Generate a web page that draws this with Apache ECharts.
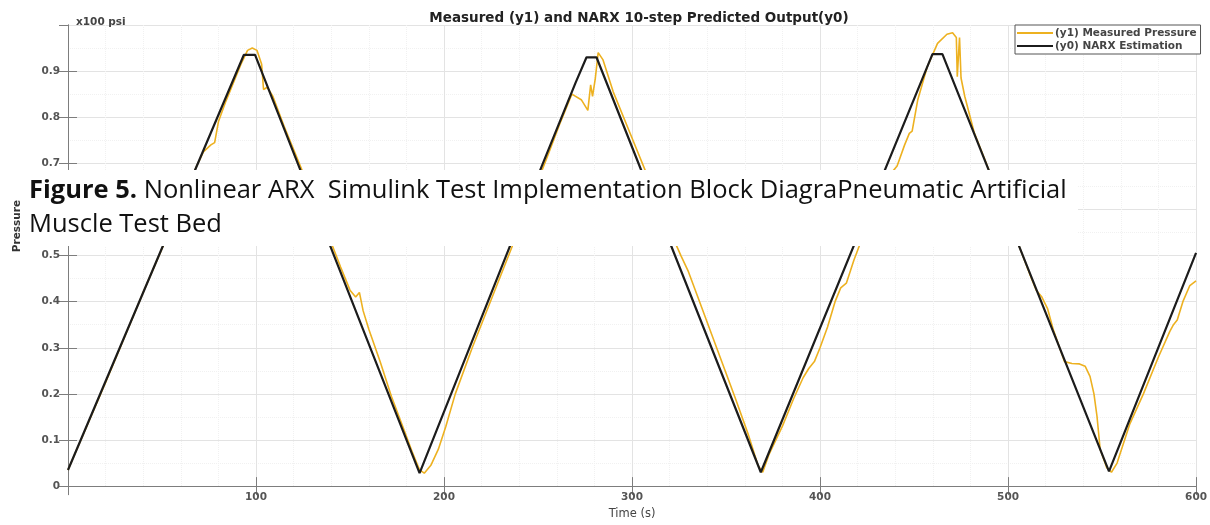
<!DOCTYPE html>
<html>
<head>
<meta charset="utf-8">
<script src="https://cdn.jsdelivr.net/npm/echarts@6/dist/echarts.min.js"></script>
<style>
  html, body { margin: 0; padding: 0; background: #fff; }
  #chart { width: 1210px; height: 525px; }
</style>
</head>
<body>
<div id="chart"></div>
<script>
// NARX 10-step prediction (y0), x100 psi
const narxTime = [0, 93.5, 99.5, 187, 252, 270, 275.8, 281.1, 368.5, 459.8, 465.1, 553.7, 600];
const narxVal  = [0.035, 0.935, 0.935, 0.028, 0.694, 0.875, 0.93, 0.93, 0.03, 0.937, 0.937, 0.032, 0.506];

// measured pressure (y1)
const measTime = [0, 20, 40, 60, 68, 72, 76, 78, 80, 84, 88, 92, 95.5, 98, 100.5, 103, 104, 106, 109, 115,
  125, 135, 145, 150, 153, 155, 157, 160, 166, 172, 178, 183, 187, 189.5, 193, 197, 201, 206, 215, 230,
  245, 255, 262, 268, 273, 276.5, 278, 279, 280.5, 282, 284.5, 290, 300, 310, 320, 326, 330, 335, 345,
  355, 362, 367, 369.5, 373, 380, 386, 391, 394, 397, 400, 404, 408, 411, 414, 418, 425, 435, 441, 445,
  447.5, 449, 452, 457, 462.5, 467.5, 470.5, 472.5, 473, 474.2, 475, 477, 482, 487.5, 495, 505, 512,
  515, 518, 521, 524, 530, 534, 538, 541, 543.6, 545.7, 547.3, 549, 552.5, 555, 558, 564.8, 572, 580,
  586, 588, 590, 593, 596.7, 600];
const measVal = [0.035, 0.225, 0.42, 0.61, 0.69, 0.725, 0.74, 0.745, 0.79, 0.835, 0.875, 0.915, 0.945, 0.95, 0.945, 0.915, 0.86, 0.865, 0.845, 0.78,
  0.68, 0.58, 0.475, 0.425, 0.41, 0.42, 0.38, 0.34, 0.27, 0.195, 0.13, 0.075, 0.035, 0.028, 0.045, 0.08, 0.13, 0.2, 0.3, 0.455,
  0.61, 0.715, 0.79, 0.85, 0.838, 0.815, 0.87, 0.845, 0.885, 0.94, 0.925, 0.855, 0.755, 0.655, 0.555, 0.5, 0.465, 0.41, 0.3,
  0.19, 0.11, 0.045, 0.03, 0.07, 0.13, 0.19, 0.235, 0.255, 0.27, 0.3, 0.345, 0.4, 0.43, 0.44, 0.49, 0.565, 0.665, 0.694, 0.74,
  0.765, 0.77, 0.838, 0.909, 0.96, 0.98, 0.983, 0.973, 0.888, 0.973, 0.885, 0.845, 0.767, 0.71, 0.63, 0.53, 0.455,
  0.425, 0.41, 0.385, 0.34, 0.27, 0.266, 0.265, 0.26, 0.238, 0.2, 0.152, 0.08, 0.04, 0.03, 0.05, 0.135, 0.2, 0.28,
  0.335, 0.35, 0.36, 0.4, 0.435, 0.445];

const xTicks = { min: 0, max: 600, step: 100 };
const yTicks = { min: 0, max: 1, step: 0.1 };

const pairs = (t, v) => t.map((x, i) => [x, v[i]]);

const chart = echarts.init(document.getElementById('chart'));

const FONT = 'DejaVu Sans';
const axisCol = '#7d7d7d';
const lblCol = '#555';
const gridMajor = { show: true, lineStyle: { color: '#e3e3e3', width: 1 } };
const gridMinor = { show: true, lineStyle: { color: '#f1f1f1', width: 1, type: 'dotted' } };

chart.setOption({
  animation: false,
  backgroundColor: '#fff',
  title: {
    text: 'Measured (y1) and NARX 10-step Predicted Output(y0)',
    left: 634, top: 6, textAlign: 'center',
    textStyle: { fontFamily: FONT, fontSize: 13.5, fontWeight: 'bold', color: '#222' }
  },
  legend: {
    orient: 'vertical',
    left: 1015, top: 25,
    padding: [2, 4, 2, 2],
    itemGap: 1,
    itemWidth: 36, itemHeight: 2,
    icon: 'rect',
    backgroundColor: '#fff',
    borderColor: '#555', borderWidth: 1, borderRadius: 0,
    textStyle: { fontFamily: FONT, fontSize: 10.5, fontWeight: 'bold', color: '#444', padding: [0, 0, 0, -3], lineHeight: 12 },
    data: ['(y1) Measured Pressure', '(y0) NARX Estimation']
  },
  grid: { left: 68, right: 11, top: 25, bottom: 34 },
  xAxis: [{
    type: 'value', min: xTicks.min, max: xTicks.max, interval: xTicks.step,
    name: 'Time (s)', nameLocation: 'middle', nameGap: 20,
    nameTextStyle: { fontFamily: FONT, fontSize: 11.5, color: '#444' },
    axisLine: { onZero: false, lineStyle: { color: axisCol } },
    axisTick: { inside: true, length: 9, lineStyle: { color: axisCol } },
    axisLabel: { showMinLabel: false, fontFamily: FONT, fontSize: 10.5, fontWeight: 'bold', color: lblCol, margin: 6 },
    splitLine: gridMajor,
    minorTick: { show: false, splitNumber: 5 },
    minorSplitLine: gridMinor
  }, {
    type: 'value', position: 'top', min: xTicks.min, max: xTicks.max, interval: xTicks.step,
    axisLine: { lineStyle: { color: axisCol } },
    axisTick: { inside: true, length: 9, lineStyle: { color: axisCol } },
    axisLabel: { show: false }, splitLine: { show: false }
  }],
  yAxis: [{
    type: 'value', min: yTicks.min, max: yTicks.max, interval: yTicks.step,
    axisLine: { show: true, onZero: false, lineStyle: { color: axisCol } },
    axisTick: { show: true, inside: true, length: 9, lineStyle: { color: axisCol } },
    axisLabel: { showMaxLabel: false, fontFamily: FONT, fontSize: 10.5, fontWeight: 'bold', color: lblCol, margin: 8 },
    splitLine: gridMajor,
    minorTick: { show: false, splitNumber: 2 },
    minorSplitLine: gridMinor
  }, {
    type: 'value', position: 'right', min: yTicks.min, max: yTicks.max, interval: yTicks.step,
    axisLine: { show: true, lineStyle: { color: axisCol } },
    axisTick: { show: true, inside: true, length: 9, lineStyle: { color: axisCol } },
    axisLabel: { show: false }, splitLine: { show: false }
  }],
  series: [{
    name: '(y1) Measured Pressure',
    type: 'line', showSymbol: false,
    color: '#EDB120',
    lineStyle: { width: 1.6, color: '#EDB120' },
    data: pairs(measTime, measVal),
    z: 2
  }, {
    name: '(y0) NARX Estimation',
    type: 'line', showSymbol: false,
    color: '#1c1c1c',
    lineStyle: { width: 2.2, color: '#1c1c1c' },
    data: pairs(narxTime, narxVal),
    z: 3
  }],
  graphic: [{
    type: 'text', left: 76, top: 17, z: 10,
    style: { text: 'x100 psi', font: 'bold 10.5px "DejaVu Sans"', fill: '#444' }
  }, {
    type: 'text', z: 10, x: 17, y: 226, rotation: Math.PI / 2,
    style: { text: 'Pressure', font: 'bold 10.5px "DejaVu Sans"', fill: '#333', align: 'center', verticalAlign: 'middle' }
  }, {
    type: 'rect', z: 20,
    shape: { x: 24, y: 170, width: 1054, height: 76 },
    style: { fill: '#fff' }
  }, {
    type: 'text', z: 21, left: 29, top: 174,
    style: {
      text: '{b|Figure 5.} Nonlinear ARX  Simulink Test Implementation Block DiagraPneumatic Artificial\nMuscle Test Bed',
      font: '25.5px "Open Sans"', fill: '#111', lineHeight: 34,
      rich: { b: { font: 'bold 25.5px "Open Sans"', fill: '#111', lineHeight: 34 } }
    }
  }]
});
</script>
</body>
</html>
